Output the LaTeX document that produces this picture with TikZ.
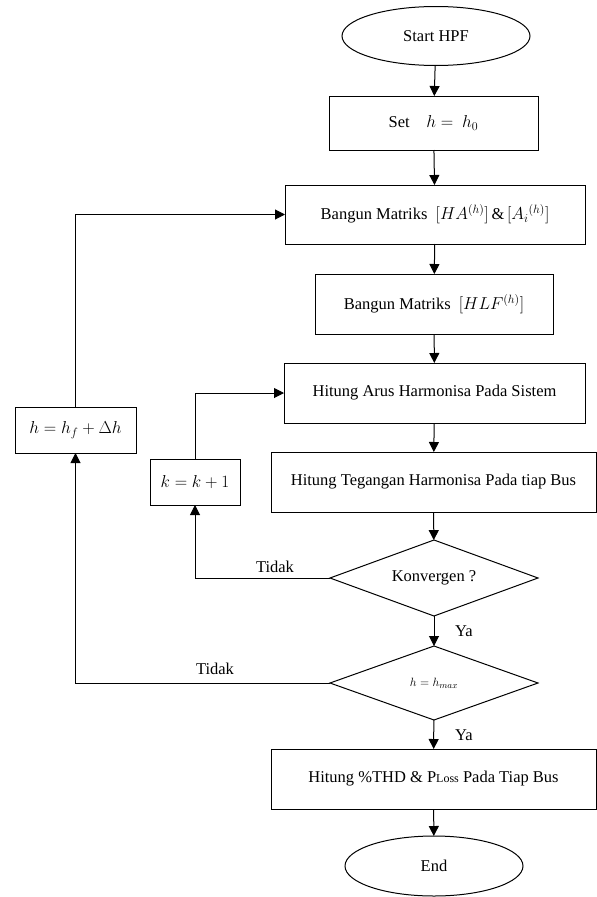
\documentclass[tikz,border=0pt]{standalone}
\usepackage{fontspec}
\setmainfont{Liberation Serif}
\usetikzlibrary{shapes.geometric,arrows.meta}
\begin{document}
\begin{tikzpicture}[x=1pt,y=-1pt,
  every node/.style={inner sep=0pt,outer sep=0pt},
  arr/.style={line width=1pt,-{Triangle[length=10pt,width=10pt]}},
  box/.style={draw,line width=1pt,rectangle,font=\fontsize{16.5}{19}\selectfont},
  term/.style={draw,line width=1pt,ellipse,font=\fontsize{16.5}{19}\selectfont},
  decide/.style={draw,line width=1pt,diamond,aspect=2.8,font=\fontsize{16.5}{19}\selectfont},
  lbl/.style={font=\fontsize{16.5}{19}\selectfont}]
\useasboundingbox (0,0) rectangle (597,897);

% main column
\node[term,minimum width=188,minimum height=59] (start) at (436,36) {Start HPF};
\node[box,minimum width=209,minimum height=54] (set) at (433.5,123) {Set\quad $h=\ h_0$};
\node[box,minimum width=300,minimum height=59] (bm1) at (435,214.5)
  {Bangun Matriks\ \ $\bigl[HA^{(h)}\bigr]$\,\&\,$\bigl[A_i{}^{(h)}\bigr]$};
\node[box,minimum width=238,minimum height=60] (bm2) at (434,304)
  {Bangun Matriks\ \ $\bigl[HLF^{(h)}\bigr]$};
\node[box,minimum width=301,minimum height=60] (arus) at (434.5,393)
  {Hitung Arus Harmonisa Pada Sistem};
\node[box,minimum width=325,minimum height=60] (teg) at (433.5,482)
  {Hitung Tegangan Harmonisa Pada tiap Bus};
\node[decide,minimum width=208,minimum height=76] (konv) at (434,578) {Konvergen ?};
\node[decide,minimum width=208,minimum height=74] (hmax) at (434,683)
  {\fontsize{13}{15}\selectfont$h=h_{max}$};
\node[box,minimum width=325,minimum height=60] (thd) at (433.5,779)
  {Hitung \%THD \& P{\fontsize{12}{14}\selectfont Loss} Pada Tiap Bus};
\node[term,minimum width=178,minimum height=60] (end) at (434,866) {End};

% loop boxes
\node[box,minimum width=121,minimum height=46,font=\fontsize{17}{19}\selectfont] (hf) at (75.5,430)
  {$h=h_f+\Delta h$};
\node[box,minimum width=90,minimum height=46,font=\fontsize{16}{18}\selectfont] (kk) at (195,482)
  {$k=k+1$};

% main flow
\draw[arr] (start) -- (set);
\draw[arr] (set) -- (bm1);
\draw[arr] (bm1) -- (bm2);
\draw[arr] (bm2) -- (arus);
\draw[arr] (arus) -- (teg);
\draw[arr] (teg) -- (konv);
\draw[arr] (konv) -- (hmax);
\draw[arr] (hmax) -- (thd);
\draw[arr] (thd) -- (end);

% inner loop: not converged
\draw[arr] (konv.west) -| (kk.south);
\draw[arr] (kk.north) |- (arus.west);
% outer loop: next harmonic
\draw[arr] (hmax.west) -| (hf.south);
\draw[arr] (hf.north) |- (bm1.west);

% branch labels
\node[lbl] (t1) at (275,567) {Tidak};
\node[lbl] (t2) at (215,669) {Tidak};
\node[lbl] (y1) at (464,631) {Ya};
\node[lbl] (y2) at (464,735) {Ya};
\end{tikzpicture}
\end{document}
